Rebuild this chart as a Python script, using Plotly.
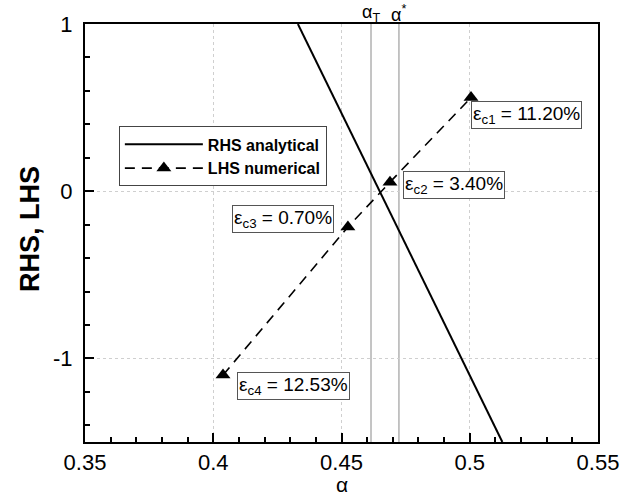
import plotly.graph_objects as go

# --- data ---
rhs_alpha = [0.433, 0.5127]
rhs_value = [1.0, -1.5]

lhs_alpha = [0.4038, 0.4525, 0.4689, 0.5005]
lhs_value = [-1.10, -0.214, 0.054, 0.56]
lhs_err_labels = ["c4", "c3", "c2", "c1"]
lhs_err_values = ["12.53%", "0.70%", "3.40%", "11.20%"]

alpha_T = 0.4615
alpha_star = 0.4724

x_ticks = [0.35, 0.40, 0.45, 0.50, 0.55]
x_tick_text = ["0.35", "0.4", "0.45", "0.5", "0.55"]
y_ticks = [-1, 0, 1]
y_tick_text = ["-1", "0", "1"]

FONT = "Liberation Sans, Arial, Helvetica, sans-serif"

fig = go.Figure()

fig.add_trace(go.Scatter(
    x=rhs_alpha, y=rhs_value, mode="lines", name="RHS analytical",
    line=dict(color="black", width=2),
))
fig.add_trace(go.Scatter(
    x=lhs_alpha, y=lhs_value, mode="lines+markers", name="LHS numerical",
    line=dict(color="black", width=1.6, dash="10px,7px"),
    marker=dict(symbol="triangle-up", size=13, color="black"),
))

# vertical reference lines
for xv in (alpha_T, alpha_star):
    fig.add_shape(type="line", xref="x", yref="paper", x0=xv, x1=xv, y0=0, y1=1,
                  line=dict(color="#8a8a8a", width=1), layer="below")

fig.add_annotation(x=alpha_T, y=1, xref="x", yref="paper", yanchor="bottom",
                   text="α<sub>T</sub>", showarrow=False, yshift=-3,
                   font=dict(family=FONT, size=18, color="black"))
fig.add_annotation(x=alpha_star, y=1, xref="x", yref="paper", yanchor="bottom",
                   text="α<sup>*</sup>", showarrow=False, yshift=-3,
                   font=dict(family=FONT, size=18, color="black"))

# error labels: (xanchor, xshift, yanchor, yshift)
placements = {
    "c1": ("left", 0, "top", -3),
    "c2": ("left", 13, "middle", -3),
    "c3": ("right", -14, "middle", 8),
    "c4": ("left", 14, "middle", -11),
}
for a, v, lab, val in zip(lhs_alpha, lhs_value, lhs_err_labels, lhs_err_values):
    xa, xs, ya, ys = placements[lab]
    fig.add_annotation(
        x=a, y=v, xref="x", yref="y", showarrow=False,
        text=f"ε<sub>{lab}</sub> = {val}",
        xanchor=xa, yanchor=ya, xshift=xs, yshift=ys,
        font=dict(family=FONT, size=19, color="black"),
        bgcolor="white", bordercolor="#555555", borderwidth=1, borderpad=1,
    )

# axis titles
fig.add_annotation(x=0.5, y=-0.1306, xref="paper", yref="paper", showarrow=False,
                   text="α", yanchor="bottom", borderpad=0,
                   font=dict(family=FONT, size=21, color="black"))
fig.add_annotation(x=-0.107, y=0.51, xref="paper", yref="paper", showarrow=False,
                   text="<b>RHS, LHS</b>", textangle=-90, xanchor="center", yanchor="middle",
                   font=dict(family=FONT, size=27, color="black"))

axis_common = dict(
    showline=True, linecolor="black", linewidth=2, mirror=True,
    ticks="inside", ticklen=9, tickwidth=1.5, tickcolor="black",
    showgrid=True, gridcolor="#cfcfcf", griddash="dot", gridwidth=1,
    zeroline=False,
    tickfont=dict(family=FONT, size=22, color="black"),
)

fig.update_xaxes(range=[0.35, 0.55], tickvals=x_ticks, ticktext=x_tick_text,
                 minor=dict(dtick=0.01, ticks="inside", ticklen=5, tickcolor="black"),
                 ticklabelstandoff=0, **axis_common)
fig.update_yaxes(range=[-1.5, 1], tickvals=y_ticks, ticktext=y_tick_text,
                 minor=dict(dtick=0.2, tick0=0, ticks="inside", ticklen=5, tickcolor="black"),
                 ticklabelstandoff=6, **axis_common)

fig.update_layout(
    width=639, height=498,
    margin=dict(l=85, r=41, t=21, b=56),
    paper_bgcolor="white", plot_bgcolor="white",
    showlegend=True,
    legend=dict(x=0.066, y=0.755, xanchor="left", yanchor="top",
                bgcolor="white", bordercolor="#444444", borderwidth=1,
                itemwidth=78,
                font=dict(family=FONT, size=16, color="black", weight="bold")),
    font=dict(family=FONT, color="black"),
)

fig.write_html("out.html")
